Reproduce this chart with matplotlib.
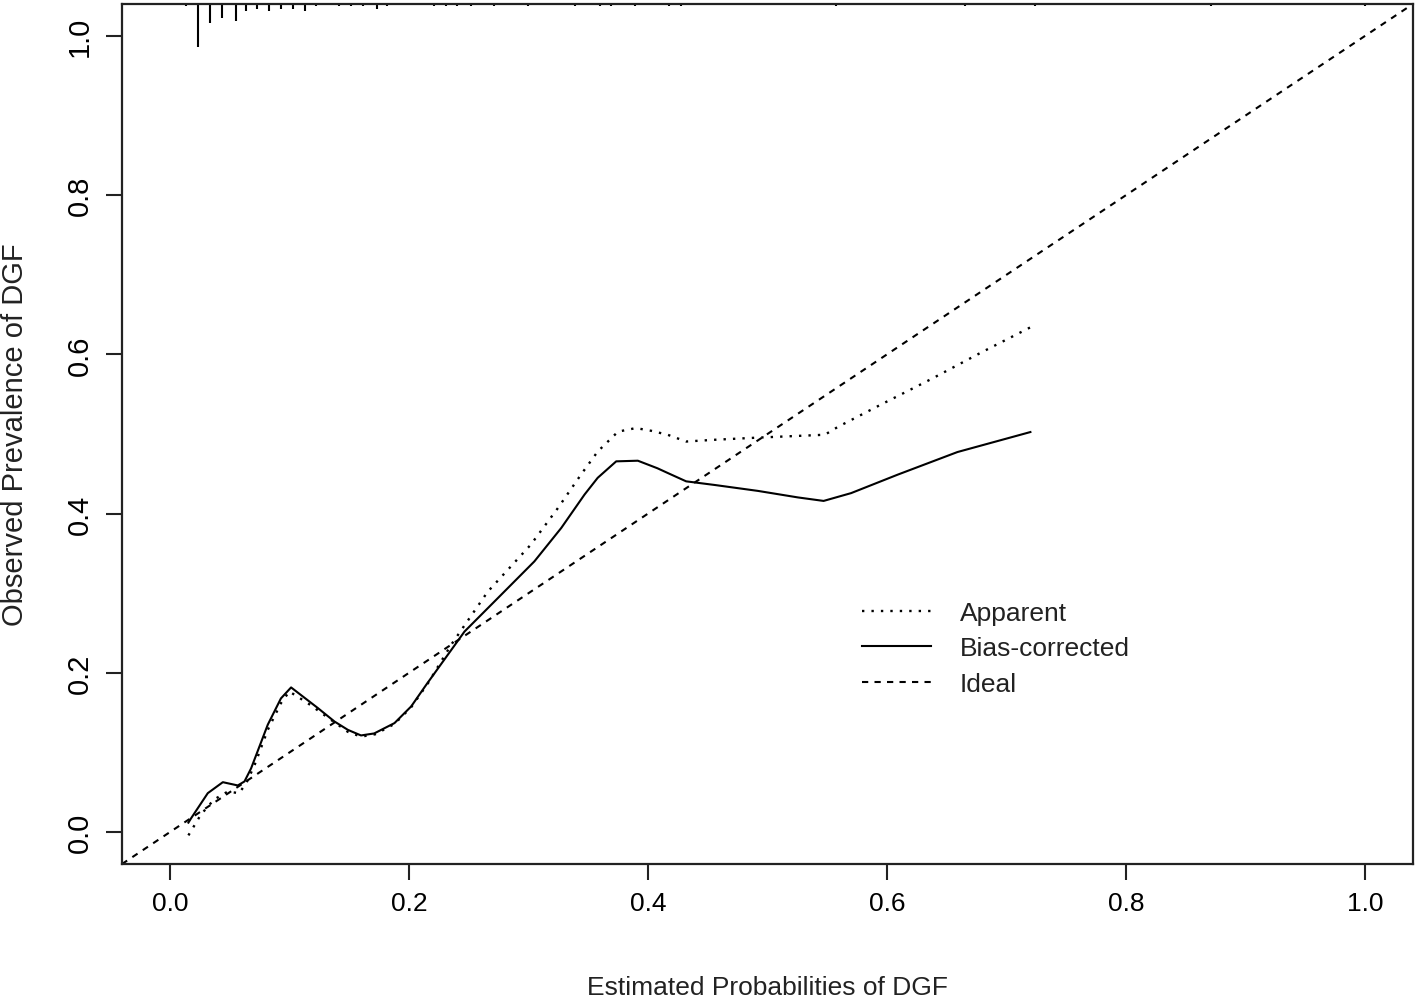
import matplotlib
matplotlib.use("Agg")
import matplotlib.pyplot as plt
from matplotlib.ticker import FormatStrFormatter

plt.rcParams["font.family"] = ["Liberation Sans", "DejaVu Sans"]

# rug at the top: binned predicted probabilities and their counts
rug_x = [0.014, 0.024, 0.034, 0.044, 0.055, 0.064, 0.073, 0.083, 0.093, 0.103,
         0.113, 0.122, 0.142, 0.152, 0.162, 0.173, 0.182, 0.221, 0.231, 0.240,
         0.252, 0.271, 0.300, 0.339, 0.360, 0.369, 0.389, 0.418, 0.428, 0.557,
         0.665, 0.724, 0.871, 1.000]
rug_n = [1, 18, 8, 6, 7, 3, 2, 3, 2, 2,
         3, 1, 1, 1, 1, 2, 1, 1, 1, 1,
         1, 1, 1, 1, 1, 1, 1, 1, 1, 1,
         1, 1, 1, 1]

# apparent calibration curve
app_x = [0.0156, 0.026, 0.037, 0.0485, 0.058, 0.064, 0.071, 0.082, 0.093, 0.100,
         0.1155, 0.135, 0.149, 0.160, 0.172, 0.188, 0.202, 0.216, 0.2354, 0.266,
         0.302, 0.3247, 0.344, 0.358, 0.375, 0.390, 0.403, 0.4167, 0.432, 0.456,
         0.492, 0.548, 0.559, 0.595, 0.637, 0.679, 0.720]
app_y = [-0.004, 0.022, 0.041, 0.051, 0.049, 0.0616, 0.0845, 0.1285, 0.162, 0.1767,
         0.162, 0.141, 0.126, 0.120, 0.123, 0.136, 0.157, 0.187, 0.2353, 0.302,
         0.361, 0.407, 0.449, 0.478, 0.503, 0.5075, 0.504, 0.499, 0.4906, 0.4928,
         0.4955, 0.4991, 0.509, 0.537, 0.569, 0.6025, 0.634]

# bias-corrected calibration curve
bc_x = [0.0156, 0.0179, 0.0318, 0.0444, 0.0569, 0.0625, 0.068, 0.082, 0.093, 0.1015,
        0.1238, 0.1378, 0.149, 0.160, 0.171, 0.188, 0.202, 0.2145, 0.2466, 0.2745,
        0.305, 0.3275, 0.347, 0.358, 0.3735, 0.3916, 0.408, 0.4167, 0.432, 0.456,
        0.492, 0.5255, 0.547, 0.570, 0.609, 0.659, 0.720]
bc_y = [0.012, 0.0176, 0.049, 0.0628, 0.0587, 0.0637, 0.080, 0.135, 0.168, 0.1818,
        0.156, 0.139, 0.1285, 0.1215, 0.124, 0.137, 0.158, 0.185, 0.252, 0.294,
        0.340, 0.382, 0.424, 0.445, 0.4657, 0.4665, 0.457, 0.451, 0.4406, 0.436,
        0.4286, 0.4204, 0.416, 0.4258, 0.449, 0.4774, 0.5025]

ticks = [0.0, 0.2, 0.4, 0.6, 0.8, 1.0]
lo, hi = -0.04, 1.04

fig = plt.figure(figsize=(14.18, 10.04), dpi=100)
ax = fig.add_axes([0.0860, 0.1384, 0.9104, 0.8566])
ax.set_xlim(lo, hi)
ax.set_ylim(lo, hi)

lw = 1.5
l_app, = ax.plot(app_x, app_y, color="black", lw=1.7, ls=(0, (1, 3.0)), label="Apparent")
l_bc, = ax.plot(bc_x, bc_y, color="black", lw=lw, ls="-", label="Bias-corrected")
l_id = ax.axline((0, 0), slope=1, color="black", lw=lw, ls=(0, (3, 3)), label="Ideal")

# spike histogram hanging from the top of the plot region
spike = 0.05 * (hi - lo)
top_len = [spike * n / max(rug_n) for n in rug_n]
ax.vlines(rug_x, [hi - h for h in top_len], hi, color="black", lw=lw)

ax.set_xticks(ticks)
ax.set_yticks(ticks)
ax.xaxis.set_major_formatter(FormatStrFormatter("%.1f"))
ax.yaxis.set_major_formatter(FormatStrFormatter("%.1f"))
ax.tick_params(axis="both", length=11.5, width=1.5, color="#222222")
ax.tick_params(axis="x", labelsize=19, pad=8)
ax.tick_params(axis="y", labelsize=21, pad=9)
for lab in ax.get_yticklabels():
    lab.set_rotation(90)
    lab.set_va("center")
for s in ax.spines.values():
    s.set_linewidth(1.6)
    s.set_color("#222222")

ax.set_xlabel("Estimated Probabilities of DGF", fontsize=19, labelpad=43, color="#222222")
ax.set_ylabel("Observed Prevalence of DGF", fontsize=21, labelpad=26, color="#222222")

leg = ax.legend(handles=[l_app, l_bc, l_id], loc="upper left",
                bbox_to_anchor=(0.5732, 0.3058), frameon=False, fontsize=19,
                handlelength=2.6, handletextpad=1.1, labelspacing=0.43,
                borderpad=0, borderaxespad=0)
for t in leg.get_texts():
    t.set_color("#222222")

fig.savefig("out.png", dpi=100)
